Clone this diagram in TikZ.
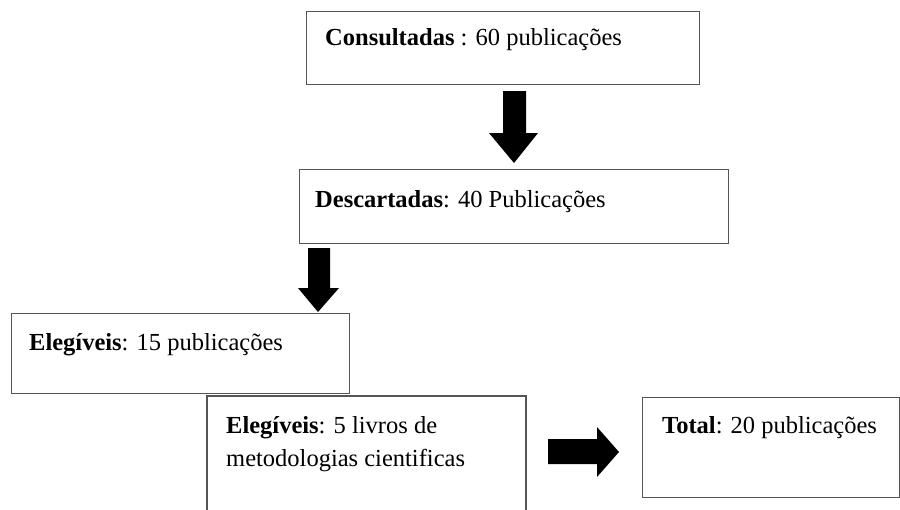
\documentclass[tikz,border=0pt]{standalone}
\usepackage{fontspec}
\setmainfont{Liberation Serif}
\definecolor{boxline}{HTML}{555555}
\tikzset{
  box/.style={draw=boxline, line width=1.3pt, rectangle, inner sep=0pt, anchor=north west},
  txt/.style={anchor=base west, inner sep=0pt, font=\fontsize{24.5}{33}\selectfont, align=left},
  blockarrow/.style={fill=black, draw=none}
}
\begin{document}
\begin{tikzpicture}[x=1pt, y=-1pt]
\useasboundingbox (0,0) rectangle (900,509);
% boxes
\node[box, minimum width=393pt, minimum height=73pt] (b1) at (306,11) {};
\node[box, minimum width=429pt, minimum height=74pt] (b2) at (299,169) {};
\node[box, minimum width=338pt, minimum height=80pt] (b3) at (11,313) {};
\node[box, minimum width=257pt, minimum height=100pt] (b5) at (642,397) {};
\coordinate (b4bl) at (207,512);
\coordinate (b4tl) at (207,396);
\coordinate (b4tr) at (526,396);
\coordinate (b4br) at (526,512);
\draw[draw=boxline, line width=1.3pt] (b4bl) -- (b4tl) -- (b4tr) -- (b4br);
% texts
\node[txt] (t1) at (325,45) {\textbf{Consultadas} : 60 publicações};
\node[txt] (t2) at (315,207) {\textbf{Descartadas}: 40 Publicações};
\node[txt] (t3) at (29,350) {\textbf{Elegíveis}: 15 publicações};
\node[txt] (t4) at (226,433) {\textbf{Elegíveis}: 5 livros de};
\node[txt] (t4b) at (226,466) {metodologias cientificas};
\node[txt] (t5) at (662,433) {\textbf{Total}: 20 publicações};
% block arrows
\fill[blockarrow] (503,91) -- (526,91) -- (526,133) -- (538,133) -- (514,163) -- (489,133) -- (503,133) -- cycle;
\fill[blockarrow] (308,248) -- (330,248) -- (330,288) -- (339,288) -- (318,312) -- (298,288) -- (308,288) -- cycle;
\fill[blockarrow] (548,439) -- (597,439) -- (597,427) -- (619,452) -- (597,477) -- (597,464) -- (548,464) -- cycle;
\end{tikzpicture}
\end{document}
